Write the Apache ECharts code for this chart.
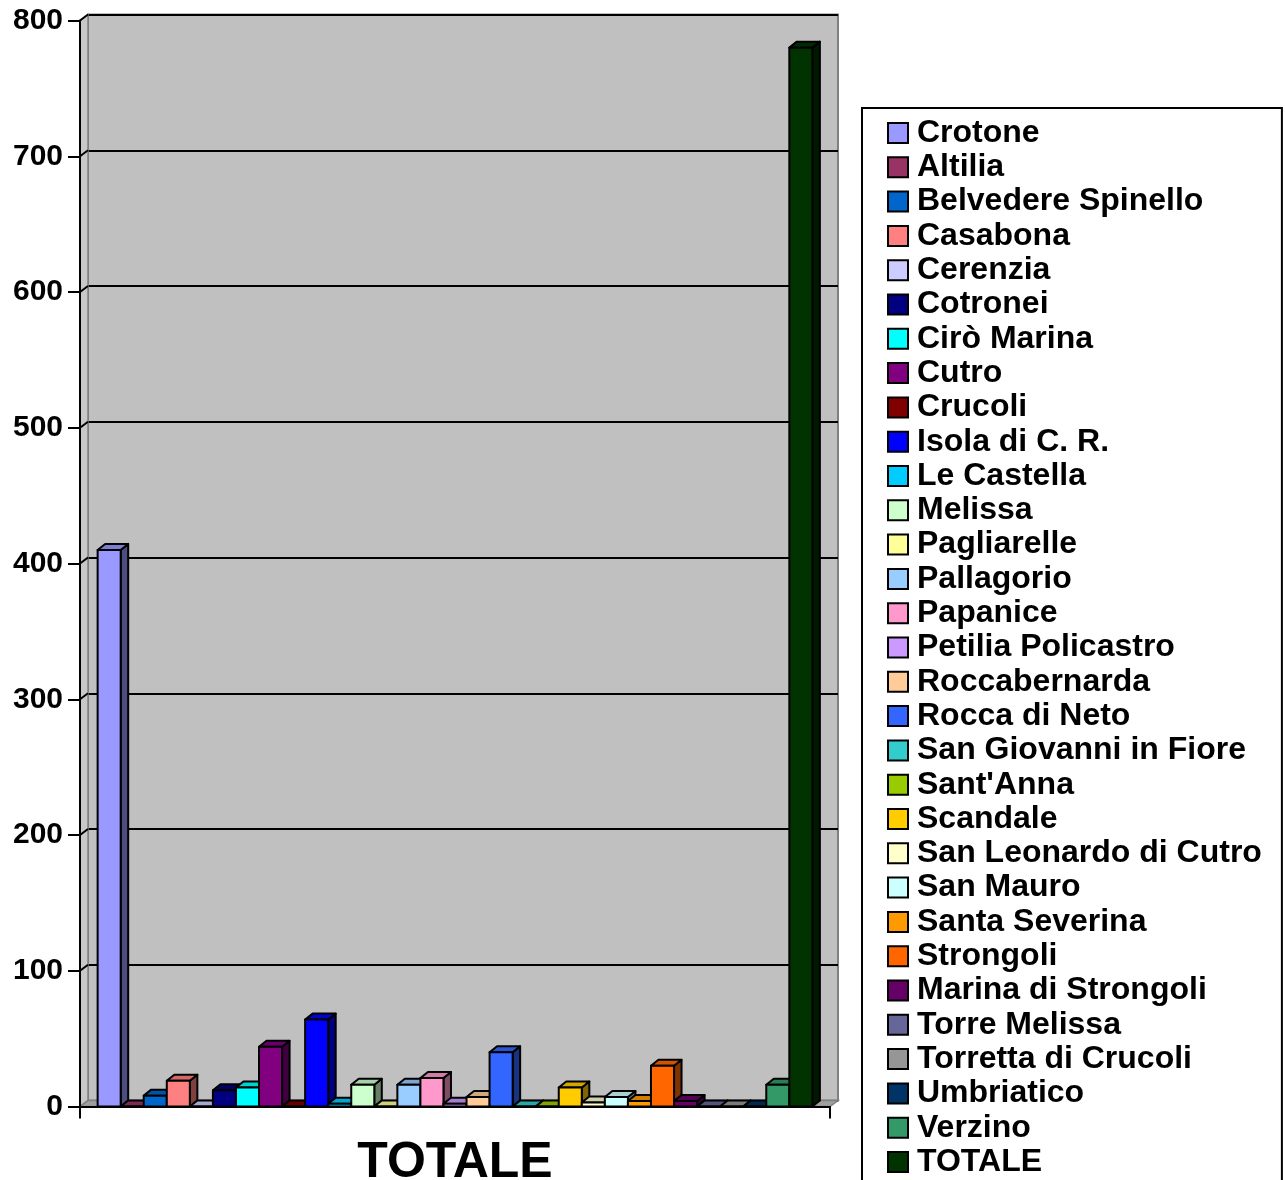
<!DOCTYPE html>
<html>
<head>
<meta charset="utf-8">
<script src="https://cdn.jsdelivr.net/npm/echarts@6/dist/echarts.min.js"></script>
<style>
  html, body { margin: 0; padding: 0; background: #ffffff; }
  #chart { width: 1285px; height: 1180px; }
</style>
</head>
<body>
<div id="chart"></div>
<script>
// Category shown on the x axis
const categories = ['TOTALE'];

// One series per comune, plus the overall total
const seriesNames = [
  'Crotone', 'Altilia', 'Belvedere Spinello', 'Casabona', 'Cerenzia', 'Cotronei',
  'Cirò Marina', 'Cutro', 'Crucoli', 'Isola di C. R.', 'Le Castella', 'Melissa',
  'Pagliarelle', 'Pallagorio', 'Papanice', 'Petilia Policastro', 'Roccabernarda',
  'Rocca di Neto', 'San Giovanni in Fiore', "Sant'Anna", 'Scandale',
  'San Leonardo di Cutro', 'San Mauro', 'Santa Severina', 'Strongoli',
  'Marina di Strongoli', 'Torre Melissa', 'Torretta di Crucoli', 'Umbriatico',
  'Verzino', 'TOTALE'
];

const seriesValues = [
  410, 0, 8, 19, 0, 12,
  14, 44, 0, 64, 2, 16,
  0, 16, 21, 2, 7,
  40, 0, 0, 14,
  3, 7, 4, 30,
  4, 0, 0, 0,
  16, 780
];

const seriesColors = [
  '#9999FF', '#993366', '#0066CC', '#FF8080', '#CCCCFF', '#000080',
  '#00FFFF', '#800080', '#800000', '#0000FF', '#00CCFF', '#CCFFCC',
  '#FFFF99', '#99CCFF', '#FF99CC', '#CC99FF', '#FFCC99',
  '#3366FF', '#33CCCC', '#99CC00', '#FFCC00',
  '#FFFFCC', '#CCFFFF', '#FF9900', '#FF6600',
  '#660066', '#666699', '#969696', '#003366',
  '#339966', '#003300'
];

// Value axis ticks
const yTicks = [0, 100, 200, 300, 400, 500, 600, 700, 800];

const FONT = "'Liberation Sans', Arial, Helvetica, sans-serif";
const DEPTH_X = 7.5;   // horizontal offset of bar top/side faces
const DEPTH_Y = 6;     // vertical offset of bar top/side faces
const WALL_X = 8;      // offset of the back wall from the front axes
const WALL_Y = 6;
const CAT_GAP = 0.047; // fraction of the category band left empty

function shade(hex, f) {
  const n = parseInt(hex.slice(1), 16);
  const r = Math.round(((n >> 16) & 255) * f);
  const g = Math.round(((n >> 8) & 255) * f);
  const b = Math.round((n & 255) * f);
  return 'rgb(' + r + ',' + g + ',' + b + ')';
}

const edge = { stroke: '#000000', lineWidth: 2, lineJoin: 'round' };

// Draws one 3D-looking column: side face, top face, then front face
function renderColumn(params, api) {
  const i = params.seriesIndex;
  const n = seriesNames.length;
  const cat = api.value(0);
  const base = api.coord([cat, 0]);
  const top = api.coord([cat, api.value(1)]);
  const band = api.size([1, 0])[0];
  const w = band * (1 - CAT_GAP) / n;
  const x0 = base[0] - band / 2 + band * CAT_GAP / 2 + i * w;
  const x1 = x0 + w;
  const yb = base[1];
  const yt = top[1];
  const color = seriesColors[i];
  return {
    type: 'group',
    children: [
      {
        type: 'polygon',
        shape: { points: [[x1, yb], [x1, yt], [x1 + DEPTH_X, yt - DEPTH_Y], [x1 + DEPTH_X, yb - DEPTH_Y]] },
        style: Object.assign({ fill: shade(color, 0.5) }, edge)
      },
      {
        type: 'polygon',
        shape: { points: [[x0, yt], [x0 + DEPTH_X, yt - DEPTH_Y], [x1 + DEPTH_X, yt - DEPTH_Y], [x1, yt]] },
        style: Object.assign({ fill: shade(color, 0.82) }, edge)
      },
      {
        type: 'rect',
        shape: { x: x0, y: yt, width: w, height: yb - yt },
        style: Object.assign({ fill: color }, edge)
      }
    ]
  };
}

// Draws the side wall, the floor and the gridline returns on the side wall
function renderFrame(params, api) {
  const cs = params.coordSys;
  const yb = api.coord([0, 0])[1];
  const y = api.coord([0, api.value(1)])[1];
  const children = [];
  if (params.dataIndex === 0) {
    children.push({
      type: 'polygon',
      shape: { points: [[cs.x, cs.y], [cs.x + WALL_X, cs.y - WALL_Y], [cs.x + WALL_X, yb - WALL_Y], [cs.x, yb]] },
      style: { fill: '#C8C8C8', stroke: '#808080', lineWidth: 1.5 }
    });
    children.push({
      type: 'polygon',
      shape: { points: [[cs.x, yb], [cs.x + cs.width, yb], [cs.x + cs.width + WALL_X, yb - WALL_Y], [cs.x + WALL_X, yb - WALL_Y]] },
      style: { fill: '#A0A0A0', stroke: '#808080', lineWidth: 1.5 }
    });
  }
  if (api.value(1) > 0) {
    children.push({
      type: 'line',
      shape: { x1: cs.x, y1: y, x2: cs.x + WALL_X, y2: y - WALL_Y },
      style: { stroke: '#000000', lineWidth: 2 }
    });
  }
  return { type: 'group', children: children };
}

const columnSeries = seriesNames.map(function (name, i) {
  return {
    name: name,
    type: 'custom',
    xAxisIndex: 0,
    yAxisIndex: 0,
    z: 2,
    itemStyle: { color: seriesColors[i] },
    renderItem: renderColumn,
    data: [[categories[0], seriesValues[i]]],
    silent: true
  };
});

const frameSeries = {
  name: 'frame',
  type: 'custom',
  xAxisIndex: 0,
  yAxisIndex: 0,
  z: 1,
  silent: true,
  renderItem: renderFrame,
  data: yTicks.map(function (v) { return [categories[0], v]; })
};

const option = {
  animation: false,
  backgroundColor: '#ffffff',
  grid: [
    { left: 80, right: 455, top: 20.5, bottom: 73.5, containLabel: false, outerBoundsMode: 'none' },
    {
      left: 88, right: 447, top: 14.5, bottom: 79.5, containLabel: false, outerBoundsMode: 'none',
      show: true, backgroundColor: '#C0C0C0', borderColor: '#808080', borderWidth: 2
    }
  ],
  xAxis: [
    {
      type: 'category', gridIndex: 0, data: categories, z: 5,
      axisLine: { show: true, lineStyle: { color: '#000000', width: 2 } },
      axisTick: { show: true, length: 12, lineStyle: { color: '#000000', width: 2 } },
      axisLabel: {
        margin: 31.5, color: '#000000', fontFamily: FONT, fontWeight: 'bold',
        fontSize: 50, lineHeight: 50
      },
      splitLine: { show: false }
    },
    {
      type: 'category', gridIndex: 1, data: categories, show: false
    }
  ],
  yAxis: [
    {
      type: 'value', gridIndex: 0, min: 0, max: 800, interval: 100, z: 5,
      axisLine: { show: true, lineStyle: { color: '#000000', width: 2 } },
      axisTick: { show: true, length: 12, lineStyle: { color: '#000000', width: 2 } },
      axisLabel: {
        margin: 17, color: '#000000', fontFamily: FONT, fontWeight: 'bold', fontSize: 30
      },
      splitLine: { show: false }
    },
    {
      type: 'value', gridIndex: 1, min: 0, max: 800, interval: 100,
      axisLine: { show: false }, axisTick: { show: false }, axisLabel: { show: false },
      splitLine: { show: true, lineStyle: { color: '#000000', width: 2 } }
    }
  ],
  legend: {
    orient: 'vertical',
    left: 862,
    top: 108,
    height: 1100,
    padding: [9, 20, 12, 25],
    itemGap: 2.3,
    itemWidth: 20,
    itemHeight: 20,
    icon: 'rect',
    selectedMode: false,
    borderColor: '#000000',
    borderWidth: 2,
    backgroundColor: '#ffffff',
    itemStyle: { borderColor: '#000000', borderWidth: 2 },
    textStyle: {
      color: '#000000', fontFamily: FONT, fontWeight: 'bold', fontSize: 32, lineHeight: 32,
      padding: [0, 0, 0, 4]
    },
    data: seriesNames
  },
  series: columnSeries.concat([frameSeries])
};

const chart = echarts.init(document.getElementById('chart'), null, { renderer: 'canvas' });
chart.setOption(option);
</script>
</body>
</html>
